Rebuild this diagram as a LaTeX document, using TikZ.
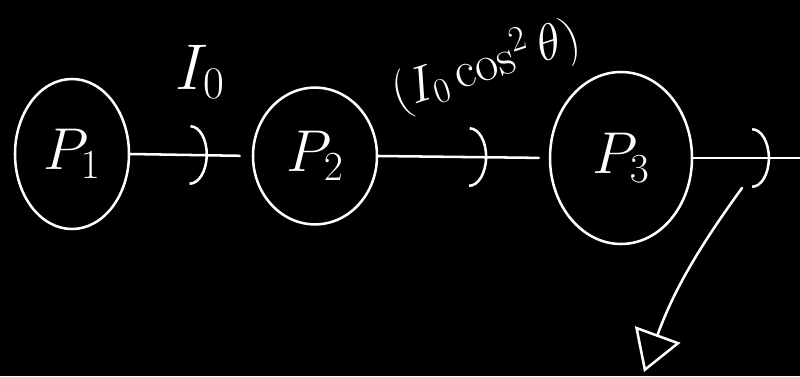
\documentclass[tikz,border=0pt]{standalone}
\usepackage{fix-cm}
\usepackage{tikz}
\usetikzlibrary{arrows.meta, shapes.geometric, decorations.markings}

\begin{document}
\begin{tikzpicture}[
  x=1cm,
  y=1cm,
  chalk/.style={draw=white, line width=1.8pt, line cap=round},
  polarizer/.style={
    chalk,
    ellipse,
    inner sep=0pt,
    text=white,
    font=\fontsize{42}{48}\selectfont
  },
  beamlabel/.style={
    text=white,
    font=\fontsize{46}{52}\selectfont
  },
  midchevron/.style={
    postaction=decorate,
    decoration={markings,
      mark=at position #1 with {\arrow{Arc Barb[length=0.45cm,width=1.5cm]}}}
  }
]

% Canvas, black board
\fill[black] (0,0) rectangle (20,9.4);
\path[use as bounding box] (0,0) rectangle (20,9.4);

% Polarizers
\node[polarizer, minimum width=2.85cm, minimum height=3.75cm] (p1) at (1.8,5.55) {$P_1$};
\node[polarizer, minimum width=3.1cm, minimum height=3.42cm] (p2) at (7.875,5.5) {$P_2$};
\node[polarizer, minimum width=3.55cm, minimum height=4.3cm] (p3) at (15.525,5.45) {$P_3$};

% Free ends
\coordinate (beamout) at (20,5.45);
\coordinate (reflstart) at (18.55,4.7);
\coordinate (reflend) at (16.1,0.1);

% Beams
\draw[chalk, midchevron=0.64, shorten >=0.3cm] (p1.east) -- (p2.west);
\draw[chalk, midchevron=0.64, shorten >=0.25cm] (p2.east) -- (p3.west);
\draw[chalk, midchevron=0.72] (p3.east) -- (beamout);
\draw[chalk, -{Triangle[open,length=1cm,width=1.2cm]}] (reflstart) to[bend right=8] (reflend);

% Intensities
\node[beamlabel] (i0) at (5.0,7.6) {$I_0$};
\node[beamlabel, font=\fontsize{36}{42}\selectfont, rotate=18] (i1) at (12.15,7.75) {$(I_0\cos^2\theta)$};

\end{tikzpicture}
\end{document}
